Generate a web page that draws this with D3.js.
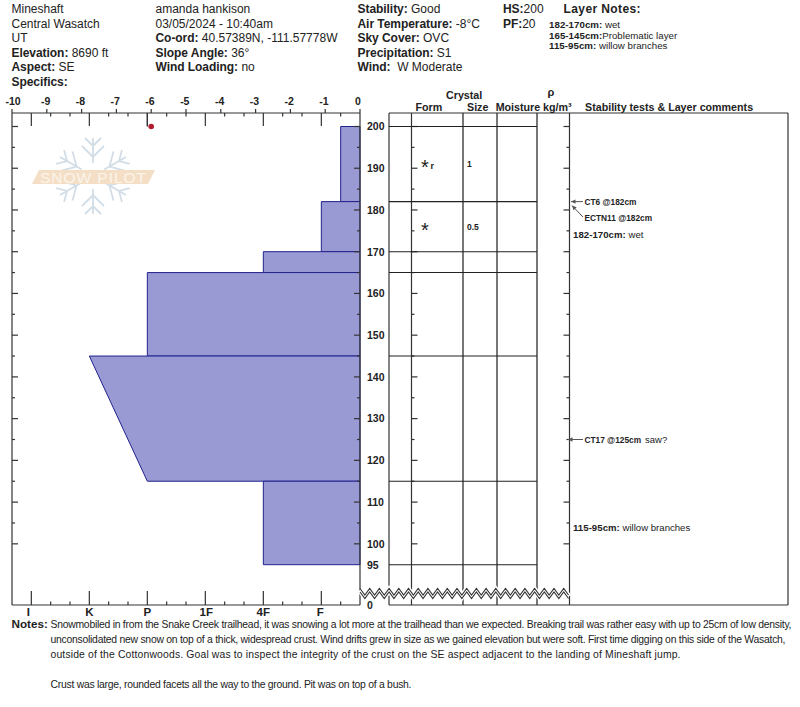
<!DOCTYPE html>
<html><head><meta charset="utf-8">
<style>html,body{margin:0;padding:0;background:#fff}svg{display:block}text{font-family:"Liberation Sans",Arial,sans-serif;fill:#222}</style>
<script src="https://cdn.jsdelivr.net/npm/d3@7"></script></head><body>
<script>
const layerTops=[200,182,170,165,145,115];
const layerBottoms=[182,170,165,145,115,95];
const hardTop=["F-","F","4F","P","K","4F"];
const hardBottom=["F-","F","4F","P","P","4F"];
const boundaries=[200,182,170,165,145,115,95];
const hardnessOrder=["I+","I","I-","K+","K","K-","P+","P","P-","1F+","1F","1F-","4F+","4F","4F-","F+","F","F-"];
const hardnessLabels=["I","K","P","1F","4F","F"];
const hardnessNudge=[-3,0,0,1,0,-1];
const tempTicks=[-10,-9,-8,-7,-6,-5,-4,-3,-2,-1,0];
const tempDepths=[200];
const tempValues=[-6];
const depthLabels=[200,190,180,170,160,150,140,130,120,110,100,95];
const crystalDepths=[190.5,175.5];
const crystalForm=["*","*"];
const crystalSub=["r",""];
const crystalSize=["1","0.5"];
const headerCol1=["Mineshaft","Central Wasatch","UT",["Elevation:"," 8690 ft"],["Aspect:"," SE"],["Specifics:",""]];
const headerCol2=["amanda hankison","03/05/2024 - 10:40am",["Co-ord:"," 40.57389N, -111.57778W"],["Slope Angle:"," 36°"],["Wind Loading:"," no"]];
const headerCol3=[["Stability:"," Good"],["Air Temperature:"," -8°C"],["Sky Cover:"," OVC"],["Precipitation:"," S1"],["Wind:","\u00a0 W Moderate"]];
const layerNotes=[["182-170cm:"," wet"],["165-145cm:","Problematic layer"],["115-95cm:"," willow branches"]];
const notesLines=["Snowmobiled in from the Snake Creek trailhead, it was snowing a lot more at the trailhead than we expected. Breaking trail was rather easy with up to 25cm of low density,",
"unconsolidated new snow on top of a thick, widespread crust. Wind drifts grew in size as we gained elevation but were soft. First time digging on this side of the Wasatch,",
"outside of the Cottonwoods. Goal was to inspect the integrity of the crust on the SE aspect adjacent to the landing of Mineshaft jump.",
"",
"Crust was large, rounded facets all the way to the ground. Pit was on top of a bush."];
const notesWidths=[741,735,630,0,361];

const W=800,H=707,plotL=12,plotR=360,plotTop=113,plotBot=605,tL=389,tR=788;
const ink="#333";
const svg=d3.select("body").append("svg").attr("width",W).attr("height",H);
const y=d3.scaleLinear().domain([200,95]).range([126.5,564.7]);
const xT=d3.scaleLinear().domain([-10,0]).range([plotL,plotR]);
const xHpos=d3.scaleLinear().domain([1,19]).range([plotR,plotL]);
const stepOf=h=>19-hardnessOrder.indexOf(h);
const xH=h=>xHpos(stepOf(h));
const colX=[tL,411.5,463,497,537,569.5];

function rich(sel,x,yy,parts,size,sp){
  const t=sel.append("text").attr("x",x).attr("y",yy).attr("font-size",size);
  if(typeof parts==="string"){t.text(parts);return t;}
  t.append("tspan").attr("font-weight","bold").attr("letter-spacing",sp===undefined?-0.05:sp).text(parts[0]);
  t.append("tspan").text(parts[1]);
  return t;
}
// header
const hd=svg.append("g").style("white-space","pre");
headerCol1.forEach((p,i)=>rich(hd,11.5,13+i*14.55,p,12));
headerCol2.forEach((p,i)=>rich(hd,155.5,13+i*14.55,p,12));
headerCol3.forEach((p,i)=>rich(hd,357.5,13+i*14.55,p,12));
rich(hd,503,13,["HS:","200"],12);
rich(hd,503,27.5,["PF:","20"],12);
hd.append("text").attr("x",563.5).attr("y",13).attr("font-size",12).attr("font-weight","bold").attr("letter-spacing",0.4).text("Layer Notes:");
layerNotes.forEach((p,i)=>rich(hd,549,28+i*10.5,p,9.7,0.05));

// watermark
const wm=svg.append("g");
const flake="#d2dde6";
const cx=93,cy=176;
for(let a=0;a<360;a+=60){
  const g=wm.append("g").attr("transform",`translate(${cx},${cy}) rotate(${a})`).attr("stroke",flake).attr("stroke-width",1.8).attr("fill","none");
  g.append("path").attr("d","M0,-13V-38M-8,-38L0,-30L8,-38M-11,-30L0,-19L11,-30");
}
wm.append("path").attr("d","M39,170H155L148,184H32Z").attr("fill","#f4dfc6");
wm.append("text").attr("x",40).attr("y",182.5).attr("font-size",15.5).attr("textLength",106).attr("lengthAdjust","spacing").style("fill","#fbf4ea").text("SNOW PILOT");

// hardness profile
const area=d3.line().x(d=>d[0]).y(d=>d[1]);
svg.append("g").selectAll("path").data(layerTops.map((t,i)=>i)).join("path")
  .attr("d",i=>area([[plotR,y(layerTops[i])],[xH(hardTop[i]),y(layerTops[i])],[xH(hardBottom[i]),y(layerBottoms[i])],[plotR,y(layerBottoms[i])]])+"Z")
  .attr("fill","#9999d4").attr("stroke","#22228c").attr("stroke-width",1);

// frame axes
const ax=svg.append("g").attr("stroke",ink).attr("fill","none").attr("stroke-width",1.2);
const ln=(x1,y1,x2,y2,w,c)=>ax.append("line").attr("x1",x1).attr("y1",y1).attr("x2",x2).attr("y2",y2).attr("stroke-width",w||1.2).attr("stroke",c||ink);
ln(plotL,plotTop,plotR,plotTop);ln(plotL,plotBot,plotR,plotBot);ln(plotL,plotTop,plotL,plotBot);ln(plotR,plotTop,plotR,plotBot);
tempTicks.forEach(t=>ln(xT(t),plotTop,xT(t),plotTop-4));
d3.range(1,20).forEach(s=>{
  const major=s%3===0,x=xHpos(s);
  if(s===1||s===19)return;
  ln(x,plotTop,x,plotTop+(major?13:3.5));
  ln(x,plotBot,x,plotBot-(major?14:3.5));
});
const depthTicks=d3.range(200,95,-5);
depthTicks.forEach(d=>{
  const len=d%10===0?6:3;
  [[plotL,1],[plotR,-1],[colX[1],1],[colX[5],-1]].forEach(([x,s])=>ln(x,y(d),x+s*len,y(d)));
});
svg.append("g").selectAll("text").data(tempTicks).join("text")
  .attr("x",d=>xT(d)+(d===-10?1:d===0?-2:-1.2)).attr("y",105).attr("text-anchor","middle").attr("font-size",10.5).attr("font-weight","bold").text(d=>d);
svg.append("g").selectAll("text").data(hardnessLabels).join("text")
  .attr("x",(d,i)=>xH(d)+hardnessNudge[i]).attr("y",615.5).attr("text-anchor","middle").attr("font-size",11.5).attr("font-weight","bold").text(d=>d);
svg.append("g").selectAll("text").data(depthLabels).join("text")
  .attr("x",367).attr("y",d=>y(d)+3.8).attr("font-size",10.5).attr("font-weight","bold").text(d=>d);
svg.append("text").attr("x",367).attr("y",608.8).attr("font-size",10.5).attr("font-weight","bold").text("0");

// temperature point
ln(xHpos(12),plotTop,xHpos(12),y(200));
svg.append("g").selectAll("circle").data(tempValues).join("circle")
  .attr("cx",d=>xT(d)).attr("cy",(d,i)=>y(tempDepths[i])).attr("r",2.8).attr("fill","#b01c2e");

// table
colX.forEach((x,i)=>ln(x,plotTop,x,plotBot,(i>=2&&i<=4)?1.6:1.2,(i>=2&&i<=4)?"#555":ink));
ln(tL,plotTop,tR,plotTop);ln(tL,plotBot,tR,plotBot);ln(tR,plotTop,tR,plotBot);
boundaries.forEach(d=>ln(tL,y(d),colX[4],y(d),1.1,"#222"));

// column headings
const ch=svg.append("g").attr("font-weight","bold");
[["Crystal",446,98.5],["Form",415.5,110.5],["Size",467,110.5],["Moisture",495.7,110.5],["kg/m³",543,110.5],["Stability tests & Layer comments",585,110.5]].forEach(([s,x,yy])=>
  ch.append("text").attr("x",x).attr("y",yy).attr("font-size",10.7).text(s));
ch.append("text").attr("x",547.5).attr("y",96).attr("font-size",11).text("ρ");

// crystals
const cr=svg.append("g");
crystalDepths.forEach((d,i)=>{
  cr.append("text").attr("x",425).attr("y",y(d)+8).attr("text-anchor","middle").attr("font-size",20).text(crystalForm[i]);
  cr.append("text").attr("x",430.5).attr("y",y(d)+3).attr("font-size",9).attr("font-weight","bold").text(crystalSub[i]);
  cr.append("text").attr("x",467).attr("y",y(d)+1.3).attr("font-size",8.5).attr("font-weight","bold").text(crystalSize[i]);
});

// zig-zag break
const zz=[];for(let x=plotR,i=0;x<=colX[5]+0.1;x+=4.85,i++)zz.push([x,i%2?595:588.5]);
const zl=d3.line();
svg.append("path").attr("d",zl(zz.map(p=>[p[0],p[1]+1.5]))).attr("stroke","#fff").attr("stroke-width",6).attr("fill","none");
svg.append("path").attr("d",zl(zz)).attr("stroke",ink).attr("stroke-width",1.1).attr("fill","none");
svg.append("path").attr("d",zl(zz.map(p=>[p[0],p[1]+3.5]))).attr("stroke",ink).attr("stroke-width",1.1).attr("fill","none");

// stability tests
const st=svg.append("g");
const arrow=(x1,y1,x2,y2)=>{
  st.append("line").attr("x1",x1).attr("y1",y1).attr("x2",x2).attr("y2",y2).attr("stroke","#555");
  const a=Math.atan2(y2-y1,x2-x1);
  const p=[[x2,y2],[x2-5*Math.cos(a-0.45),y2-5*Math.sin(a-0.45)],[x2-5*Math.cos(a+0.45),y2-5*Math.sin(a+0.45)]];
  st.append("path").attr("d",d3.line()(p)+"Z").attr("fill","#555");
};
arrow(583,y(182),571,y(182));
arrow(583,217,572,205.6);
arrow(583,y(125),568,y(125));
const lbl=(x,yy,s,b,size)=>st.append("text").attr("x",x).attr("y",yy).attr("font-size",size||9).attr("font-weight",b?"bold":null).text(s);
lbl(584.5,y(182)+3,"CT6 @182cm",true,8.3);
lbl(584.5,221,"ECTN11 @182cm",true,8.3);
lbl(584.5,y(125)+3,"CT17 @125cm",true,8.3);
lbl(645,y(125)+3,"saw?",false,9.5);
rich(st,573,237.5,["182-170cm:"," wet"],9.6,0.05);
rich(st,573,530.5,["115-95cm:"," willow branches"],9.6,0.05);

// notes
svg.append("text").attr("x",11.5).attr("y",627.5).attr("font-size",11.7).attr("font-weight","bold").text("Notes:");
const nt=svg.append("g");
notesLines.forEach((s,i)=>{ if(!s)return;
  nt.append("text").attr("x",50.5).attr("y",627.5+i*15.2).attr("font-size",10.4).attr("textLength",notesWidths[i]).attr("lengthAdjust","spacing").text(s);
});
</script></body></html>
